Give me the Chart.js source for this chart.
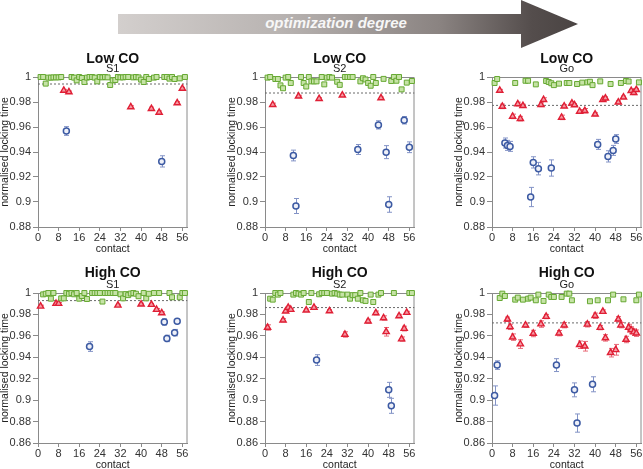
<!DOCTYPE html>
<html><head><meta charset="utf-8">
<script src="https://cdn.jsdelivr.net/npm/chart.js@4.4.1/dist/chart.umd.min.js"></script>
<style>
html,body{margin:0;padding:0;background:#fff;}
#wrap{position:relative;width:643px;height:469px;overflow:hidden;background:#fff;}
canvas{position:absolute;}
#arrow{position:absolute;left:118px;top:0;width:460px;height:48px;
 clip-path:polygon(0 14px,403px 14px,403px 0,460px 24px,403px 48px,403px 34px,0 34px);
 background:linear-gradient(90deg,#d3cfcd 0%,#b9b4b2 35%,#8a8381 70%,#544d4c 90%,#4a4443 100%);}
#arrowText{position:absolute;left:236px;top:14px;width:200px;height:20px;line-height:20px;text-align:center;color:#f7f7f7;font:italic bold 15px "Liberation Sans",Arial,sans-serif;}
</style></head><body><div id="wrap">
<div id="arrow"></div><div id="arrowText">optimization degree</div>
</div>
<script>
// ---------- tick values ----------
const xTicks = [0, 8, 16, 24, 32, 40, 48, 56];
const yTicksTop = [0.88, 0.9, 0.92, 0.94, 0.96, 0.98, 1];
const yTicksBottom = [0.86, 0.88, 0.9, 0.92, 0.94, 0.96, 0.98, 1];
const panelTitles = ['Low CO', 'Low CO', 'Low CO', 'High CO', 'High CO', 'High CO'];
const panelSubtitles = ['S1', 'S2', 'Go', 'S1', 'S2', 'Go'];
const dashLevels = [0.9944, 0.9872, 0.9773, 0.9929, 0.9864, 0.9721];

// ---------- Low CO, S1 ----------
const p1GreenX = [1,2,3,4,5,6,7,8,9,13,14,15,16,17,18,19,20,21,22,23,24,25,26,27,28,29,30,31,32,33,34,35,37,38,39,40,41,42,43,45,46,49,50,51,52,53,55,57];
const p1GreenY = [1,1,0.9947,0.9995,0.9995,0.9997,0.9997,0.9997,1,1,0.9995,0.9973,1,0.9992,0.996,0.9995,1,1,0.9995,0.9965,1,0.9997,1,0.9997,0.9936,0.9973,0.9976,1,0.9997,0.9997,1,1,0.9997,1,0.9997,0.9979,0.996,1,0.9984,0.9995,1,1,1,0.9987,1,0.9984,0.9989,1];
const p1RedX = [10,12,36,44,47,54,56];
const p1RedY = [0.9893,0.988,0.976,0.9747,0.9717,0.9792,0.9909];
const p1RedErr = [0.0008,0.0008,0.001,0.0012,0.0012,0.0012,0.0008];
const p1BlueX = [11,48];
const p1BlueY = [0.9568,0.9325];
const p1BlueErr = [0.0035,0.0045];

// ---------- Low CO, S2 ----------
const p2GreenX = [1,2,4,5,6,7,8,9,10,14,15,16,17,18,19,20,22,23,24,25,26,28,29,31,32,33,34,37,38,39,40,41,42,43,46,49,50,51,52,53,55,57];
const p2GreenY = [0.9995,1,0.9984,0.9984,0.9933,0.991,0.9995,1,0.9952,1,0.9952,0.9924,1,0.9965,0.9965,0.9965,1,0.9941,0.9995,1,0.9995,0.9962,0.9937,1,1,1,1,0.9965,0.999,0.998,0.9952,0.993,1,0.9952,0.9985,0.9968,1,0.997,1,0.9901,0.9955,0.9968];
const p2RedX = [3,13,21,30,45];
const p2RedY = [0.9779,0.9846,0.9827,0.9854,0.9832];
const p2RedErr = [0.0012,0.0008,0.0008,0.0008,0.0008];
const p2BlueX = [11,12,36,44,47,48,54,56];
const p2BlueY = [0.9372,0.8968,0.942,0.9617,0.9399,0.898,0.9654,0.9438];
const p2BlueErr = [0.0043,0.006,0.004,0.0033,0.0052,0.0062,0.003,0.0043];

// ---------- Low CO, Go ----------
const p3GreenX = [1,2,9,13,14,17,21,22,23,24,26,29,30,33,35,37,38,39,42,46,50,52,53,57];
const p3GreenY = [0.9952,0.9984,0.9952,0.997,0.997,0.9941,0.9968,0.996,0.995,0.9935,0.9947,0.9952,0.9952,0.9944,0.9955,0.9957,0.9962,0.9935,0.9965,0.9944,0.9952,0.9968,0.9964,0.9957];
const p3RedX = [3,4,8,10,11,12,19,20,27,28,31,32,34,36,40,43,44,49,51,54,55,56];
const p3RedY = [0.9893,0.9765,0.9685,0.9784,0.9667,0.977,0.9778,0.9819,0.9677,0.9767,0.979,0.9776,0.9725,0.973,0.9702,0.9819,0.983,0.9798,0.9838,0.9891,0.9874,0.9899];
const p3RedErr = [0.0008,0.0018,0.0018,0.0015,0.0018,0.0012,0.0015,0.0015,0.0018,0.0012,0.0012,0.0012,0.0015,0.0018,0.0012,0.0012,0.0012,0.0012,0.001,0.001,0.0015,0.001];
const p3BlueX = [5,6,7,15,16,18,23,41,45,47,48];
const p3BlueY = [0.9472,0.9453,0.9445,0.904,0.9317,0.9267,0.9272,0.9461,0.9365,0.9413,0.9504];
const p3BlueErr = [0.004,0.004,0.004,0.0077,0.0045,0.005,0.0065,0.004,0.0045,0.004,0.0035];

// ---------- High CO, S1 ----------
const p4GreenX = [2,3,4,5,6,9,10,11,12,13,14,15,16,17,18,19,21,22,23,24,25,26,27,28,29,30,32,33,34,35,36,37,38,39,41,42,43,45,47,51,52,55,56,57];
const p4GreenY = [0.9987,0.9993,1,0.9947,1,0.995,0.995,1,0.9993,1,0.9988,1,0.9947,0.9972,1,0.9944,1,1,1,1,0.992,1,1,1,1,1,0.9988,0.995,0.999,0.998,0.9995,1,0.9993,0.997,1,0.995,0.9993,1,1,1,0.996,0.996,1,1];
const p4RedX = [1,7,8,31,40,44,46,48];
const p4RedY = [0.9876,0.9901,0.9901,0.9885,0.9895,0.9892,0.9845,0.9814];
const p4RedErr = [0.001,0.001,0.001,0.001,0.001,0.001,0.001,0.001];
const p4BlueX = [20,49,50,53,54];
const p4BlueY = [0.950,0.973,0.9576,0.963,0.9737];
const p4BlueErr = [0.0045,0.003,0.003,0.003,0.002];

// ---------- High CO, S2 ----------
const p5GreenX = [2,3,4,5,6,11,12,13,14,15,17,18,21,22,23,24,26,27,28,29,30,32,33,34,35,36,37,38,39,41,42,44,45,50,56,57];
const p5GreenY = [0.9947,0.9938,1,0.9985,1,0.9985,1,0.9994,0.9985,1,0.9916,1,0.9988,1,1,1,0.9994,1,0.9994,0.9985,0.9985,0.9985,0.9947,0.998,0.998,0.9947,1,0.9932,0.9926,0.9985,0.9916,0.9985,1,1,1,1];
const p5RedX = [1,7,8,9,10,16,19,25,31,40,43,46,47,52,53,54,55];
const p5RedY = [0.9678,0.9746,0.983,0.9864,0.9845,0.9839,0.9864,0.9833,0.9613,0.9737,0.9814,0.9767,0.9638,0.9786,0.957,0.9668,0.9817];
const p5RedErr = [0.0025,0.0015,0.0012,0.0012,0.0012,0.0012,0.001,0.0012,0.0025,0.0018,0.0018,0.002,0.004,0.0015,0.002,0.0022,0.0012];
const p5BlueX = [20,48,49];
const p5BlueY = [0.9374,0.9096,0.8947];
const p5BlueErr = [0.005,0.007,0.007];

// ---------- High CO, Go ----------
const p6GreenX = [3,4,5,9,10,12,14,15,17,18,20,22,23,24,27,29,30,31,38,41,45,47,51,56,57];
const p6GreenY = [0.9953,0.9994,0.9972,0.9938,0.9957,0.9938,0.9947,0.9957,0.9932,0.9985,0.9926,0.9985,0.9963,0.9963,0.9963,0.9994,0.9994,0.9932,0.9923,0.9932,0.9932,0.9985,0.9941,0.9932,0.9985];
const p6RedX = [6,7,8,11,13,16,19,21,26,28,34,36,37,40,42,43,44,46,48,49,50,52,53,54,55,56];
const p6RedY = [0.9755,0.9684,0.9588,0.9523,0.970,0.9622,0.971,0.978,0.9625,0.970,0.9517,0.9503,0.9708,0.9788,0.9677,0.9827,0.9581,0.9443,0.947,0.9755,0.970,0.9566,0.9678,0.9655,0.9635,0.9625];
const p6RedErr = [0.002,0.0025,0.003,0.004,0.002,0.003,0.003,0.002,0.0025,0.0025,0.0035,0.0045,0.0025,0.0025,0.002,0.0015,0.003,0.004,0.005,0.0025,0.0025,0.003,0.003,0.003,0.003,0.003];
const p6BlueX = [1,2,25,32,33,39];
const p6BlueY = [0.9043,0.9327,0.9327,0.9096,0.8786,0.9148];
const p6BlueErr = [0.009,0.004,0.006,0.0065,0.0085,0.007];

// ---------- layout ----------
const FONT = '"Liberation Sans", Arial, Helvetica, sans-serif';
const YW = 38, TOPPAD = 30, XH = 30, RPAD = 5;
const areas = [
  {l:38, t:77, r:188, b:227}, {l:265, t:77, r:415, b:227}, {l:492, t:77, r:642, b:227},
  {l:38, t:293, r:188, b:443}, {l:265, t:293, r:415, b:443}, {l:492, t:293, r:642, b:443}
];
const GRAY = '#8a8a8a';

const pts = (xs, ys) => xs.map((x, i) => ({x: x, y: ys[i]}));

const errorBarPlugin = {
  id: 'errorBars',
  beforeDatasetsDraw(chart) {
    const ctx = chart.ctx, xs = chart.scales.x, ys = chart.scales.y;
    const a = chart.chartArea;
    ctx.save();
    ctx.strokeStyle = GRAY; ctx.lineWidth = 1;
    ctx.strokeRect(a.left + 0.5, a.top + 0.5, a.right - a.left - 1, a.bottom - a.top);
    chart.data.datasets.forEach(ds => {
      if (!ds.errors) return;
      ctx.strokeStyle = ds.errorColor; ctx.lineWidth = 1;
      ds.data.forEach((p, i) => {
        const e = ds.errors[i];
        const px = Math.round(xs.getPixelForValue(p.x)) + 0.5;
        const y1 = ys.getPixelForValue(p.y - e), y2 = ys.getPixelForValue(p.y + e);
        ctx.beginPath();
        ctx.moveTo(px, y1); ctx.lineTo(px, y2);
        ctx.moveTo(px - 2.5, y1); ctx.lineTo(px + 2.5, y1);
        ctx.moveTo(px - 2.5, y2); ctx.lineTo(px + 2.5, y2);
        ctx.stroke();
      });
    });
    ctx.restore();
  }
};

const titlePlugin = {
  id: 'panelTitles',
  afterDraw(chart, args, opts) {
    const ctx = chart.ctx, a = chart.chartArea;
    const cx = (a.left + a.right) / 2;
    ctx.save();
    ctx.textAlign = 'center'; ctx.textBaseline = 'middle';
    ctx.fillStyle = '#111';
    ctx.font = 'bold 14px ' + FONT;
    ctx.fillText(opts.title, cx, a.top - opts.titleOff);
    ctx.fillStyle = '#222';
    ctx.font = '11px ' + FONT;
    ctx.fillText(opts.subtitle, cx, a.top - 8);
    ctx.restore();
  }
};

function makePanel(i, yTicks, gx, gy, rx, ry, re, bx, by, be) {
  const a = areas[i];
  const c = document.createElement('canvas');
  const left = a.l - YW, top = a.t - TOPPAD;
  const w = a.r - a.l + YW + RPAD, h = a.b - a.t + TOPPAD + XH;
  c.width = w; c.height = h;
  c.style.left = left + 'px'; c.style.top = top + 'px';
  c.style.width = w + 'px'; c.style.height = h + 'px';
  document.getElementById('wrap').appendChild(c);
  new Chart(c, {
    type: 'scatter',
    data: {
      datasets: [
        {data: pts(gx, gy), pointStyle: 'rect', pointRadius: 3.5, borderWidth: 1,
         borderColor: '#66a832', backgroundColor: '#c6e3a6', clip: false},
        {data: pts(rx, ry), errors: re, errorColor: '#e86a78', pointStyle: 'triangle', pointRadius: 3.6, borderWidth: 1.4,
         borderColor: '#e01f35', backgroundColor: '#f59aa4', clip: false},
        {data: pts(bx, by), errors: be, errorColor: '#8393c6', pointStyle: 'circle', pointRadius: 3, borderWidth: 1.5,
         borderColor: '#3c5aa3', backgroundColor: '#eef0f8', clip: false},
        {data: [{x: 0, y: dashLevels[i]}, {x: 58, y: dashLevels[i]}], showLine: true, pointRadius: 0,
         borderColor: '#6a6a6a', borderWidth: 1, borderDash: [2, 2], fill: false}
      ]
    },
    options: {
      responsive: false, animation: false, devicePixelRatio: 1,
      layout: {padding: {left: 0, top: TOPPAD, right: RPAD, bottom: 0}},
      plugins: {
        legend: {display: false}, tooltip: {enabled: false},
        panelTitles: {title: panelTitles[i], subtitle: panelSubtitles[i], titleOff: i < 3 ? 18 : 20}
      },
      scales: {
        x: {
          type: 'linear', min: 0, max: 58,
          afterFit: s => { s.height = XH; },
          afterBuildTicks: s => { s.ticks = xTicks.map(v => ({value: v})); },
          ticks: {font: {family: FONT, size: 11}, color: '#333', padding: 0, maxRotation: 0, autoSkip: false,
                  callback: v => String(v)},
          grid: {drawOnChartArea: false, drawTicks: true, tickLength: 4, color: GRAY},
          border: {display: true, color: GRAY},
          title: {display: true, text: 'contact', font: {family: FONT, size: 10.5}, color: '#222',
                  padding: {top: 0, bottom: 2}}
        },
        y: {
          type: 'linear', min: yTicks[0], max: 1,
          afterFit: s => { s.width = YW; },
          afterBuildTicks: s => { s.ticks = yTicks.map(v => ({value: v})); },
          ticks: {font: {family: FONT, size: 11}, color: '#333', padding: 2, autoSkip: false,
                  callback: v => String(Number(v.toFixed(2)))},
          grid: {drawOnChartArea: false, drawTicks: true, tickLength: 5, color: GRAY},
          border: {display: true, color: GRAY},
          title: {display: true, text: 'normalised locking time', font: {family: FONT, size: 10.5, lineHeight: 1},
                  color: '#222', padding: {top: 0, bottom: 0}}
        }
      }
    },
    plugins: [errorBarPlugin, titlePlugin]
  });
}

makePanel(0, yTicksTop, p1GreenX, p1GreenY, p1RedX, p1RedY, p1RedErr, p1BlueX, p1BlueY, p1BlueErr);
makePanel(1, yTicksTop, p2GreenX, p2GreenY, p2RedX, p2RedY, p2RedErr, p2BlueX, p2BlueY, p2BlueErr);
makePanel(2, yTicksTop, p3GreenX, p3GreenY, p3RedX, p3RedY, p3RedErr, p3BlueX, p3BlueY, p3BlueErr);
makePanel(3, yTicksBottom, p4GreenX, p4GreenY, p4RedX, p4RedY, p4RedErr, p4BlueX, p4BlueY, p4BlueErr);
makePanel(4, yTicksBottom, p5GreenX, p5GreenY, p5RedX, p5RedY, p5RedErr, p5BlueX, p5BlueY, p5BlueErr);
makePanel(5, yTicksBottom, p6GreenX, p6GreenY, p6RedX, p6RedY, p6RedErr, p6BlueX, p6BlueY, p6BlueErr);
</script>
</body></html>
